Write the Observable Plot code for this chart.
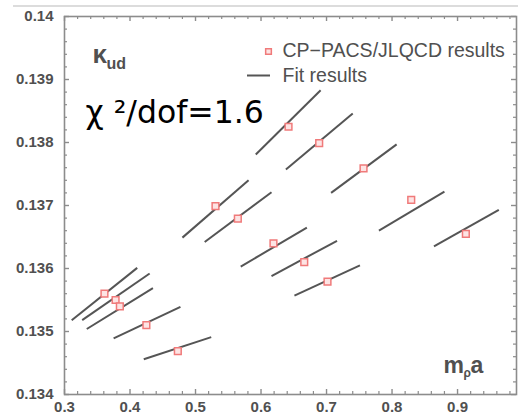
<!DOCTYPE html>
<html>
<head>
<meta charset="utf-8">
<script src="https://cdn.jsdelivr.net/npm/d3@7"></script>
<script src="https://cdn.jsdelivr.net/npm/@observablehq/plot@0.6"></script>
<style>
  html, body { margin: 0; padding: 0; background: #fff; }
  #wrap { position: relative; width: 518px; height: 414px; overflow: hidden; }
  #topline { position: absolute; left: 13px; right: 0; top: 5px; height: 2px; background: #dcdcdc; }
</style>
</head>
<body>
<div id="wrap"><div id="topline"></div></div>
<script>
// Data points (CP-PACS/JLQCD results)
const pointX = [0.361, 0.378, 0.3845, 0.425, 0.473, 0.5305, 0.5646, 0.642, 0.6888, 0.7565, 0.8293, 0.619, 0.666, 0.7015, 0.9127];
const pointY = [0.13560, 0.13550, 0.13540, 0.13510, 0.13469, 0.13699, 0.13679, 0.13825, 0.13799, 0.13759, 0.13709, 0.13640, 0.13610, 0.13579, 0.13655];

// Fit result segments
const fitX1 = [0.311, 0.327, 0.334, 0.375, 0.421, 0.480, 0.514, 0.592, 0.638, 0.707, 0.780, 0.569, 0.616, 0.651, 0.864];
const fitY1 = [0.13518, 0.13518, 0.13504, 0.13489, 0.13456, 0.13649, 0.13642, 0.13781, 0.13757, 0.13720, 0.13660, 0.13603, 0.13588, 0.13557, 0.13635];
const fitX2 = [0.411, 0.430, 0.435, 0.477, 0.524, 0.581, 0.616, 0.691, 0.740, 0.807, 0.880, 0.670, 0.716, 0.751, 0.963];
const fitY2 = [0.13601, 0.13592, 0.13569, 0.13539, 0.13491, 0.13740, 0.13721, 0.13883, 0.13846, 0.13797, 0.13722, 0.13665, 0.13644, 0.13605, 0.13693];

// Tick labels
const xTickLabels = ["0.3", "0.4", "0.5", "0.6", "0.7", "0.8", "0.9"];
const yTickLabels = ["0.134", "0.135", "0.136", "0.137", "0.138", "0.139", "0.14"];

const xMajor = xTickLabels.map(Number);
const yMajor = yTickLabels.map(Number);
const xMinor = d3.range(0, 35).map(i => +(0.3 + i * 0.02).toFixed(2)).filter(v => !xMajor.some(m => Math.abs(m - v) < 1e-9));
const yMinor = d3.range(0, 31).map(i => +(0.134 + i * 0.0002).toFixed(4)).filter(v => !yMajor.some(m => Math.abs(m - v) < 1e-9));

const points = pointX.map((x, i) => ({x, y: pointY[i]}));
const fits = fitX1.map((x1, i) => ({x1, y1: fitY1[i], x2: fitX2[i], y2: fitY2[i]}));

const W = 518, H = 414;
const mL = 64, mR = 2, mT = 16, mB = 20;
const pw = W - mL - mR, ph = H - mT - mB;
const axisColor = "#8c8c8c";
const textColor = "#505050";
const pink = "#f07a7a";

const legendLine = {draw(ctx) { ctx.moveTo(-11.5, 0); ctx.lineTo(11.5, 0); }};

const chart = Plot.plot({
  width: W, height: H,
  marginLeft: mL, marginRight: mR, marginTop: mT, marginBottom: mB,
  style: {fontFamily: "Liberation Sans, Arial, sans-serif", background: "transparent", overflow: "visible"},
  x: {domain: [0.3, 0.99]},
  y: {domain: [0.134, 0.140]},
  marks: [
    Plot.frame({stroke: axisColor, strokeWidth: 1.6}),
    // bottom ticks
    Plot.tickX(xMajor, {x: d => d, insetTop: ph - 5, stroke: axisColor, strokeWidth: 1.4}),
    Plot.tickX(xMinor, {x: d => d, insetTop: ph - 3, stroke: axisColor, strokeWidth: 1.2}),
    // top ticks
    Plot.tickX(xMajor, {x: d => d, insetBottom: ph - 5, stroke: axisColor, strokeWidth: 1.4}),
    Plot.tickX(xMinor, {x: d => d, insetBottom: ph - 3, stroke: axisColor, strokeWidth: 1.2}),
    // left ticks
    Plot.tickY(yMajor, {y: d => d, insetRight: pw - 5, stroke: axisColor, strokeWidth: 1.4}),
    Plot.tickY(yMinor, {y: d => d, insetRight: pw - 3, stroke: axisColor, strokeWidth: 1.2}),
    // right ticks
    Plot.tickY(yMajor, {y: d => d, insetLeft: pw - 5, stroke: axisColor, strokeWidth: 1.4}),
    Plot.tickY(yMinor, {y: d => d, insetLeft: pw - 3, stroke: axisColor, strokeWidth: 1.2}),
    Plot.axisX({ticks: xMajor, tickSize: 0, tickPadding: 7, tickFormat: (d, i) => xTickLabels[i], fontSize: 15, fontWeight: "bold", fill: textColor, label: null}),
    Plot.axisY({ticks: yMajor, tickSize: 0, tickPadding: 11, tickFormat: (d, i) => yTickLabels[i], fontSize: 15, fontWeight: "bold", fill: textColor, label: null}),
    // fits
    Plot.link(fits, {x1: "x1", y1: "y1", x2: "x2", y2: "y2", stroke: "#555", strokeWidth: 2}),
    // points
    Plot.dot(points, {x: "x", y: "y", symbol: "square", r: 3.8, stroke: pink, strokeWidth: 1.5, fill: "#fde4e4"}),
    // legend
    Plot.dot([0], {frameAnchor: "top-left", dx: 204, dy: 35, symbol: "square", r: 3.2, stroke: pink, strokeWidth: 1.5, fill: "#fde4e4"}),
    Plot.text(["CP\u2212PACS/JLQCD results"], {text: d => d, frameAnchor: "top-left", dx: 218, dy: 34, textAnchor: "start", lineAnchor: "middle", fontSize: 19.5, fill: textColor}),
    Plot.dot([0], {frameAnchor: "top-left", dx: 194, dy: 59, symbol: legendLine, stroke: "#555", strokeWidth: 2}),
    Plot.text(["Fit results"], {text: d => d, frameAnchor: "top-left", dx: 218, dy: 59, textAnchor: "start", lineAnchor: "middle", fontSize: 19.5, fill: textColor}),
    // labels
    Plot.text(["\u03ba"], {text: d => d, frameAnchor: "top-left", dx: 28, dy: 46, textAnchor: "start", lineAnchor: "bottom", fontSize: 26, fontWeight: "bold", fill: textColor}),
    Plot.text(["ud"], {text: d => d, frameAnchor: "top-left", dx: 42, dy: 52, textAnchor: "start", lineAnchor: "bottom", fontSize: 16, fontWeight: "bold", fill: textColor}),
    Plot.text(["\u03c7 \u00b2/dof=1.6"], {text: d => d, frameAnchor: "top-left", dx: 21, dy: 106, textAnchor: "start", lineAnchor: "bottom", fontSize: 31.5, fontFamily: "DejaVu Sans", fill: "#000"}),
    Plot.text(["m"], {text: d => d, frameAnchor: "top-left", dx: 379, dy: 356, textAnchor: "start", lineAnchor: "bottom", fontSize: 23, fontWeight: "bold", fill: textColor}),
    Plot.text(["\u03c1"], {text: d => d, frameAnchor: "top-left", dx: 399, dy: 360, textAnchor: "start", lineAnchor: "bottom", fontSize: 12, fontWeight: "bold", fill: textColor}),
    Plot.text(["a"], {text: d => d, frameAnchor: "top-left", dx: 406, dy: 356, textAnchor: "start", lineAnchor: "bottom", fontSize: 23, fontWeight: "bold", fill: textColor})
  ]
});
document.getElementById("wrap").appendChild(chart);
</script>
</body>
</html>
